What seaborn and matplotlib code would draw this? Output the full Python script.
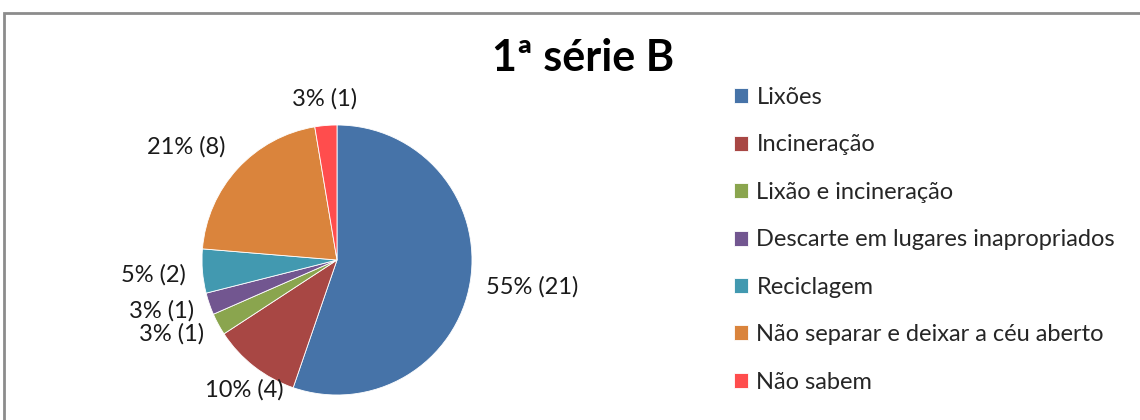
import numpy as np
import matplotlib
matplotlib.use("Agg")
import matplotlib.pyplot as plt
import matplotlib.patches as mpatches
import seaborn as sns

# dados do gráfico
categorias = ["Lixões", "Incineração", "Lixão e incineração",
              "Descarte em lugares inapropriados", "Reciclagem",
              "Não separar e deixar a céu aberto", "Não sabem"]
respostas = [21, 4, 1, 1, 2, 8, 1]
cores = ["#4673A8", "#A84744", "#8AA54E", "#725690", "#4299B0", "#DA843C", "#FF4D4D"]
titulo = "1ª série B"

sns.set_theme(style="white")
plt.rcParams["font.family"] = ["Lato", "DejaVu Sans"]
paleta = sns.color_palette(cores)

W, H = 1140, 420
fig = plt.figure(figsize=(W / 100, H / 100), dpi=100)

# moldura cinza (print recortado)
fig.patches.append(mpatches.Rectangle((4 / W, -0.1), 1.2, 1 - 13 / H + 0.1,
                                      transform=fig.transFigure, fill=False,
                                      edgecolor="#8c8c8c", linewidth=2))

# eixo da pizza: centro (337, 260), raio 135 px
cx, cy, r = 337, 260, 135
ax = fig.add_axes([(cx - r) / W, (H - cy - r) / H, 2 * r / W, 2 * r / H])

# porcentagens inteiras somando 100 (maior resto, como o Excel)
total = sum(respostas)
brutos = np.array(respostas) / total * 100
pct = np.floor(brutos).astype(int)
falta = 100 - pct.sum()
pct[np.argsort(-(brutos - pct), kind="stable")[:falta]] += 1
rotulos = [f"{p}% ({v})" for p, v in zip(pct, respostas)]

wedges, textos = ax.pie(respostas, colors=paleta, startangle=90, counterclock=False,
                        labels=rotulos, labeldistance=1.12,
                        wedgeprops=dict(edgecolor="white", linewidth=0.6),
                        textprops=dict(fontsize=17, color="#1a1a1a"))
ax.set_xlim(-1, 1)
ax.set_ylim(-1, 1)
ax.set_aspect("auto")

for t in textos:
    x, y = t.get_position()
    ang = np.arctan2(y, x)
    c, s = np.cos(ang), np.sin(ang)
    t.set_ha("left" if c > 0.7 else ("right" if c < -0.7 else "center"))
    t.set_va("bottom" if s > 0.5 else ("top" if s < -0.5 else "center_baseline"))

fig.text(583 / W, 1 - 58 / H, titulo, ha="center", va="center",
         fontsize=31, fontweight="bold", color="black")

fig.legend(wedges, categorias, loc="upper left", bbox_to_anchor=(734 / W, 1 - 87 / H),
           frameon=False, fontsize=17, handlelength=0.6, handleheight=0.6,
           handletextpad=0.35, labelspacing=1.12, borderpad=0, borderaxespad=0)

fig.savefig("out.png", dpi=100)
